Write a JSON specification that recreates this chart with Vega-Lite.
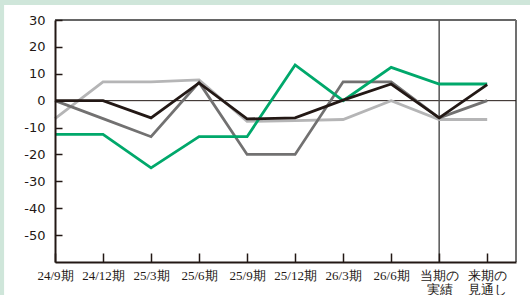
{
  "$schema": "https://vega.github.io/schema/vega-lite/v6.json",
  "width": 461,
  "height": 242,
  "autosize": "none",
  "padding": {"left": 55, "top": 20, "right": 14, "bottom": 33},
  "background": "#cfe6da",
  "config": {
    "view": {"stroke": null, "fill": "white"},
    "font": "Liberation Sans"
  },
  "data": {
    "values": [
      {"s": "s1_light", "i": 0, "v": -6.7}, {"s": "s1_light", "i": 1, "v": 7}, {"s": "s1_light", "i": 2, "v": 7}, {"s": "s1_light", "i": 3, "v": 7.7}, {"s": "s1_light", "i": 4, "v": -7.7},
      {"s": "s1_light", "i": 5, "v": -7.4}, {"s": "s1_light", "i": 6, "v": -7}, {"s": "s1_light", "i": 7, "v": 0}, {"s": "s1_light", "i": 8, "v": -7}, {"s": "s1_light", "i": 9, "v": -7},
      {"s": "s2_dark", "i": 0, "v": 0}, {"s": "s2_dark", "i": 1, "v": -6.7}, {"s": "s2_dark", "i": 2, "v": -13.4}, {"s": "s2_dark", "i": 3, "v": 6.8}, {"s": "s2_dark", "i": 4, "v": -20},
      {"s": "s2_dark", "i": 5, "v": -20}, {"s": "s2_dark", "i": 6, "v": 7}, {"s": "s2_dark", "i": 7, "v": 7}, {"s": "s2_dark", "i": 8, "v": -6.4}, {"s": "s2_dark", "i": 9, "v": 0},
      {"s": "s3_green", "i": 0, "v": -12.5}, {"s": "s3_green", "i": 1, "v": -12.5}, {"s": "s3_green", "i": 2, "v": -25}, {"s": "s3_green", "i": 3, "v": -13.4}, {"s": "s3_green", "i": 4, "v": -13.4},
      {"s": "s3_green", "i": 5, "v": 13.3}, {"s": "s3_green", "i": 6, "v": 0}, {"s": "s3_green", "i": 7, "v": 12.4}, {"s": "s3_green", "i": 8, "v": 6.2}, {"s": "s3_green", "i": 9, "v": 6.2},
      {"s": "s4_black", "i": 0, "v": 0}, {"s": "s4_black", "i": 1, "v": 0}, {"s": "s4_black", "i": 2, "v": -6.4}, {"s": "s4_black", "i": 3, "v": 6.6}, {"s": "s4_black", "i": 4, "v": -6.8},
      {"s": "s4_black", "i": 5, "v": -6.4}, {"s": "s4_black", "i": 6, "v": 0.2}, {"s": "s4_black", "i": 7, "v": 6.2}, {"s": "s4_black", "i": 8, "v": -6.4}, {"s": "s4_black", "i": 9, "v": 6}
    ]
  },
  "layer": [
    {
      "data": {"values": [{}]},
      "mark": {"type": "rect", "fill": "white", "clip": false},
      "encoding": {
        "x": {"datum": -1.06, "type": "quantitative", "scale": {"domain": [0, 9.6], "nice": false, "zero": false},
          "axis": {"zindex": 2, "title": null, "grid": false, "labelOverlap": false, "labelFlush": false, "labelBound": false, "values": [0, 1, 2, 3, 4, 5, 6, 7, 8, 9], "domainColor": "#231815", "domainWidth": 2, "ticks": true, "tickColor": "#231815", "tickWidth": 1.5, "tickSize": -9, "labelPadding": 16, "labelFont": "Liberation Sans Narrow", "labelFontSize": 13, "labelColor": "#231815", "labelLineHeight": 14, "labelBaseline": "top", "labelExpr": "[['24/9期'], ['24/12期'], ['25/3期'], ['25/6期'], ['25/9期'], ['25/12期'], ['26/3期'], ['26/6期'], ['当期の', '実績'], ['来期の', '見通し']][datum.value]"}},
        "x2": {"datum": 10.5},
        "y": {"datum": 35.6, "type": "quantitative", "scale": {"domain": [-60, 30], "nice": false},
          "axis": {"zindex": 2, "title": null, "grid": false, "labelOverlap": false, "labelFlush": false, "labelBound": false, "values": [-50, -40, -30, -20, -10, 0, 10, 20, 30], "domainColor": "#231815", "domainWidth": 2, "ticks": true, "tickColor": "#231815", "tickWidth": 1.5, "tickSize": -7, "labelPadding": 17, "labelFont": "DejaVu Sans", "labelFontSize": 13, "labelColor": "#231815", "labelExpr": "'' + datum.value"}},
        "y2": {"datum": -80}
      }
    },
    {
      "data": {"values": [{}]},
      "mark": {"type": "rule", "color": "#333333", "strokeWidth": 1.5},
      "encoding": {"y": {"datum": 30, "type": "quantitative",
        "axis": {"zindex": 2, "title": null, "grid": false, "labelOverlap": false, "labelFlush": false, "labelBound": false, "values": [-50, -40, -30, -20, -10, 0, 10, 20, 30], "domainColor": "#231815", "domainWidth": 2, "ticks": true, "tickColor": "#231815", "tickWidth": 1.5, "tickSize": -7, "labelPadding": 17, "labelFont": "DejaVu Sans", "labelFontSize": 13, "labelColor": "#231815", "labelExpr": "'' + datum.value"}}}
    },
    {
      "data": {"values": [{}]},
      "mark": {"type": "rule", "color": "#707070", "strokeWidth": 2},
      "encoding": {"x": {"datum": 9.6, "type": "quantitative",
        "axis": {"zindex": 2, "title": null, "grid": false, "labelOverlap": false, "labelFlush": false, "labelBound": false, "values": [0, 1, 2, 3, 4, 5, 6, 7, 8, 9], "domainColor": "#231815", "domainWidth": 2, "ticks": true, "tickColor": "#231815", "tickWidth": 1.5, "tickSize": -9, "labelPadding": 16, "labelFont": "Liberation Sans Narrow", "labelFontSize": 13, "labelColor": "#231815", "labelLineHeight": 14, "labelBaseline": "top", "labelExpr": "[['24/9期'], ['24/12期'], ['25/3期'], ['25/6期'], ['25/9期'], ['25/12期'], ['26/3期'], ['26/6期'], ['当期の', '実績'], ['来期の', '見通し']][datum.value]"}}}
    },
    {
      "data": {"values": [{}]},
      "mark": {"type": "rule", "color": "#231815", "strokeWidth": 1},
      "encoding": {"y": {"datum": 0, "type": "quantitative",
        "axis": {"zindex": 2, "title": null, "grid": false, "labelOverlap": false, "labelFlush": false, "labelBound": false, "values": [-50, -40, -30, -20, -10, 0, 10, 20, 30], "domainColor": "#231815", "domainWidth": 2, "ticks": true, "tickColor": "#231815", "tickWidth": 1.5, "tickSize": -7, "labelPadding": 17, "labelFont": "DejaVu Sans", "labelFontSize": 13, "labelColor": "#231815", "labelExpr": "'' + datum.value"}}}
    },
    {
      "data": {"values": [{}]},
      "mark": {"type": "rule", "color": "#555555", "strokeWidth": 1.5},
      "encoding": {"x": {"datum": 8, "type": "quantitative",
        "axis": {"zindex": 2, "title": null, "grid": false, "labelOverlap": false, "labelFlush": false, "labelBound": false, "values": [0, 1, 2, 3, 4, 5, 6, 7, 8, 9], "domainColor": "#231815", "domainWidth": 2, "ticks": true, "tickColor": "#231815", "tickWidth": 1.5, "tickSize": -9, "labelPadding": 16, "labelFont": "Liberation Sans Narrow", "labelFontSize": 13, "labelColor": "#231815", "labelLineHeight": 14, "labelBaseline": "top", "labelExpr": "[['24/9期'], ['24/12期'], ['25/3期'], ['25/6期'], ['25/9期'], ['25/12期'], ['26/3期'], ['26/6期'], ['当期の', '実績'], ['来期の', '見通し']][datum.value]"}}}
    },
    {
      "mark": {"type": "line", "strokeWidth": 2.8},
      "encoding": {
        "x": {"field": "i", "type": "quantitative",
          "axis": {"zindex": 2, "title": null, "grid": false, "labelOverlap": false, "labelFlush": false, "labelBound": false, "values": [0, 1, 2, 3, 4, 5, 6, 7, 8, 9], "domainColor": "#231815", "domainWidth": 2, "ticks": true, "tickColor": "#231815", "tickWidth": 1.5, "tickSize": -9, "labelPadding": 16, "labelFont": "Liberation Sans Narrow", "labelFontSize": 13, "labelColor": "#231815", "labelLineHeight": 14, "labelBaseline": "top", "labelExpr": "[['24/9期'], ['24/12期'], ['25/3期'], ['25/6期'], ['25/9期'], ['25/12期'], ['26/3期'], ['26/6期'], ['当期の', '実績'], ['来期の', '見通し']][datum.value]"}},
        "y": {"field": "v", "type": "quantitative",
          "axis": {"zindex": 2, "title": null, "grid": false, "labelOverlap": false, "labelFlush": false, "labelBound": false, "values": [-50, -40, -30, -20, -10, 0, 10, 20, 30], "domainColor": "#231815", "domainWidth": 2, "ticks": true, "tickColor": "#231815", "tickWidth": 1.5, "tickSize": -7, "labelPadding": 17, "labelFont": "DejaVu Sans", "labelFontSize": 13, "labelColor": "#231815", "labelExpr": "'' + datum.value"}},
        "color": {
          "field": "s", "type": "nominal", "legend": null,
          "scale": {"domain": ["s1_light", "s2_dark", "s3_green", "s4_black"], "range": ["#b5b5b6", "#727171", "#00a86b", "#231815"]}
        }
      }
    }
  ]
}
